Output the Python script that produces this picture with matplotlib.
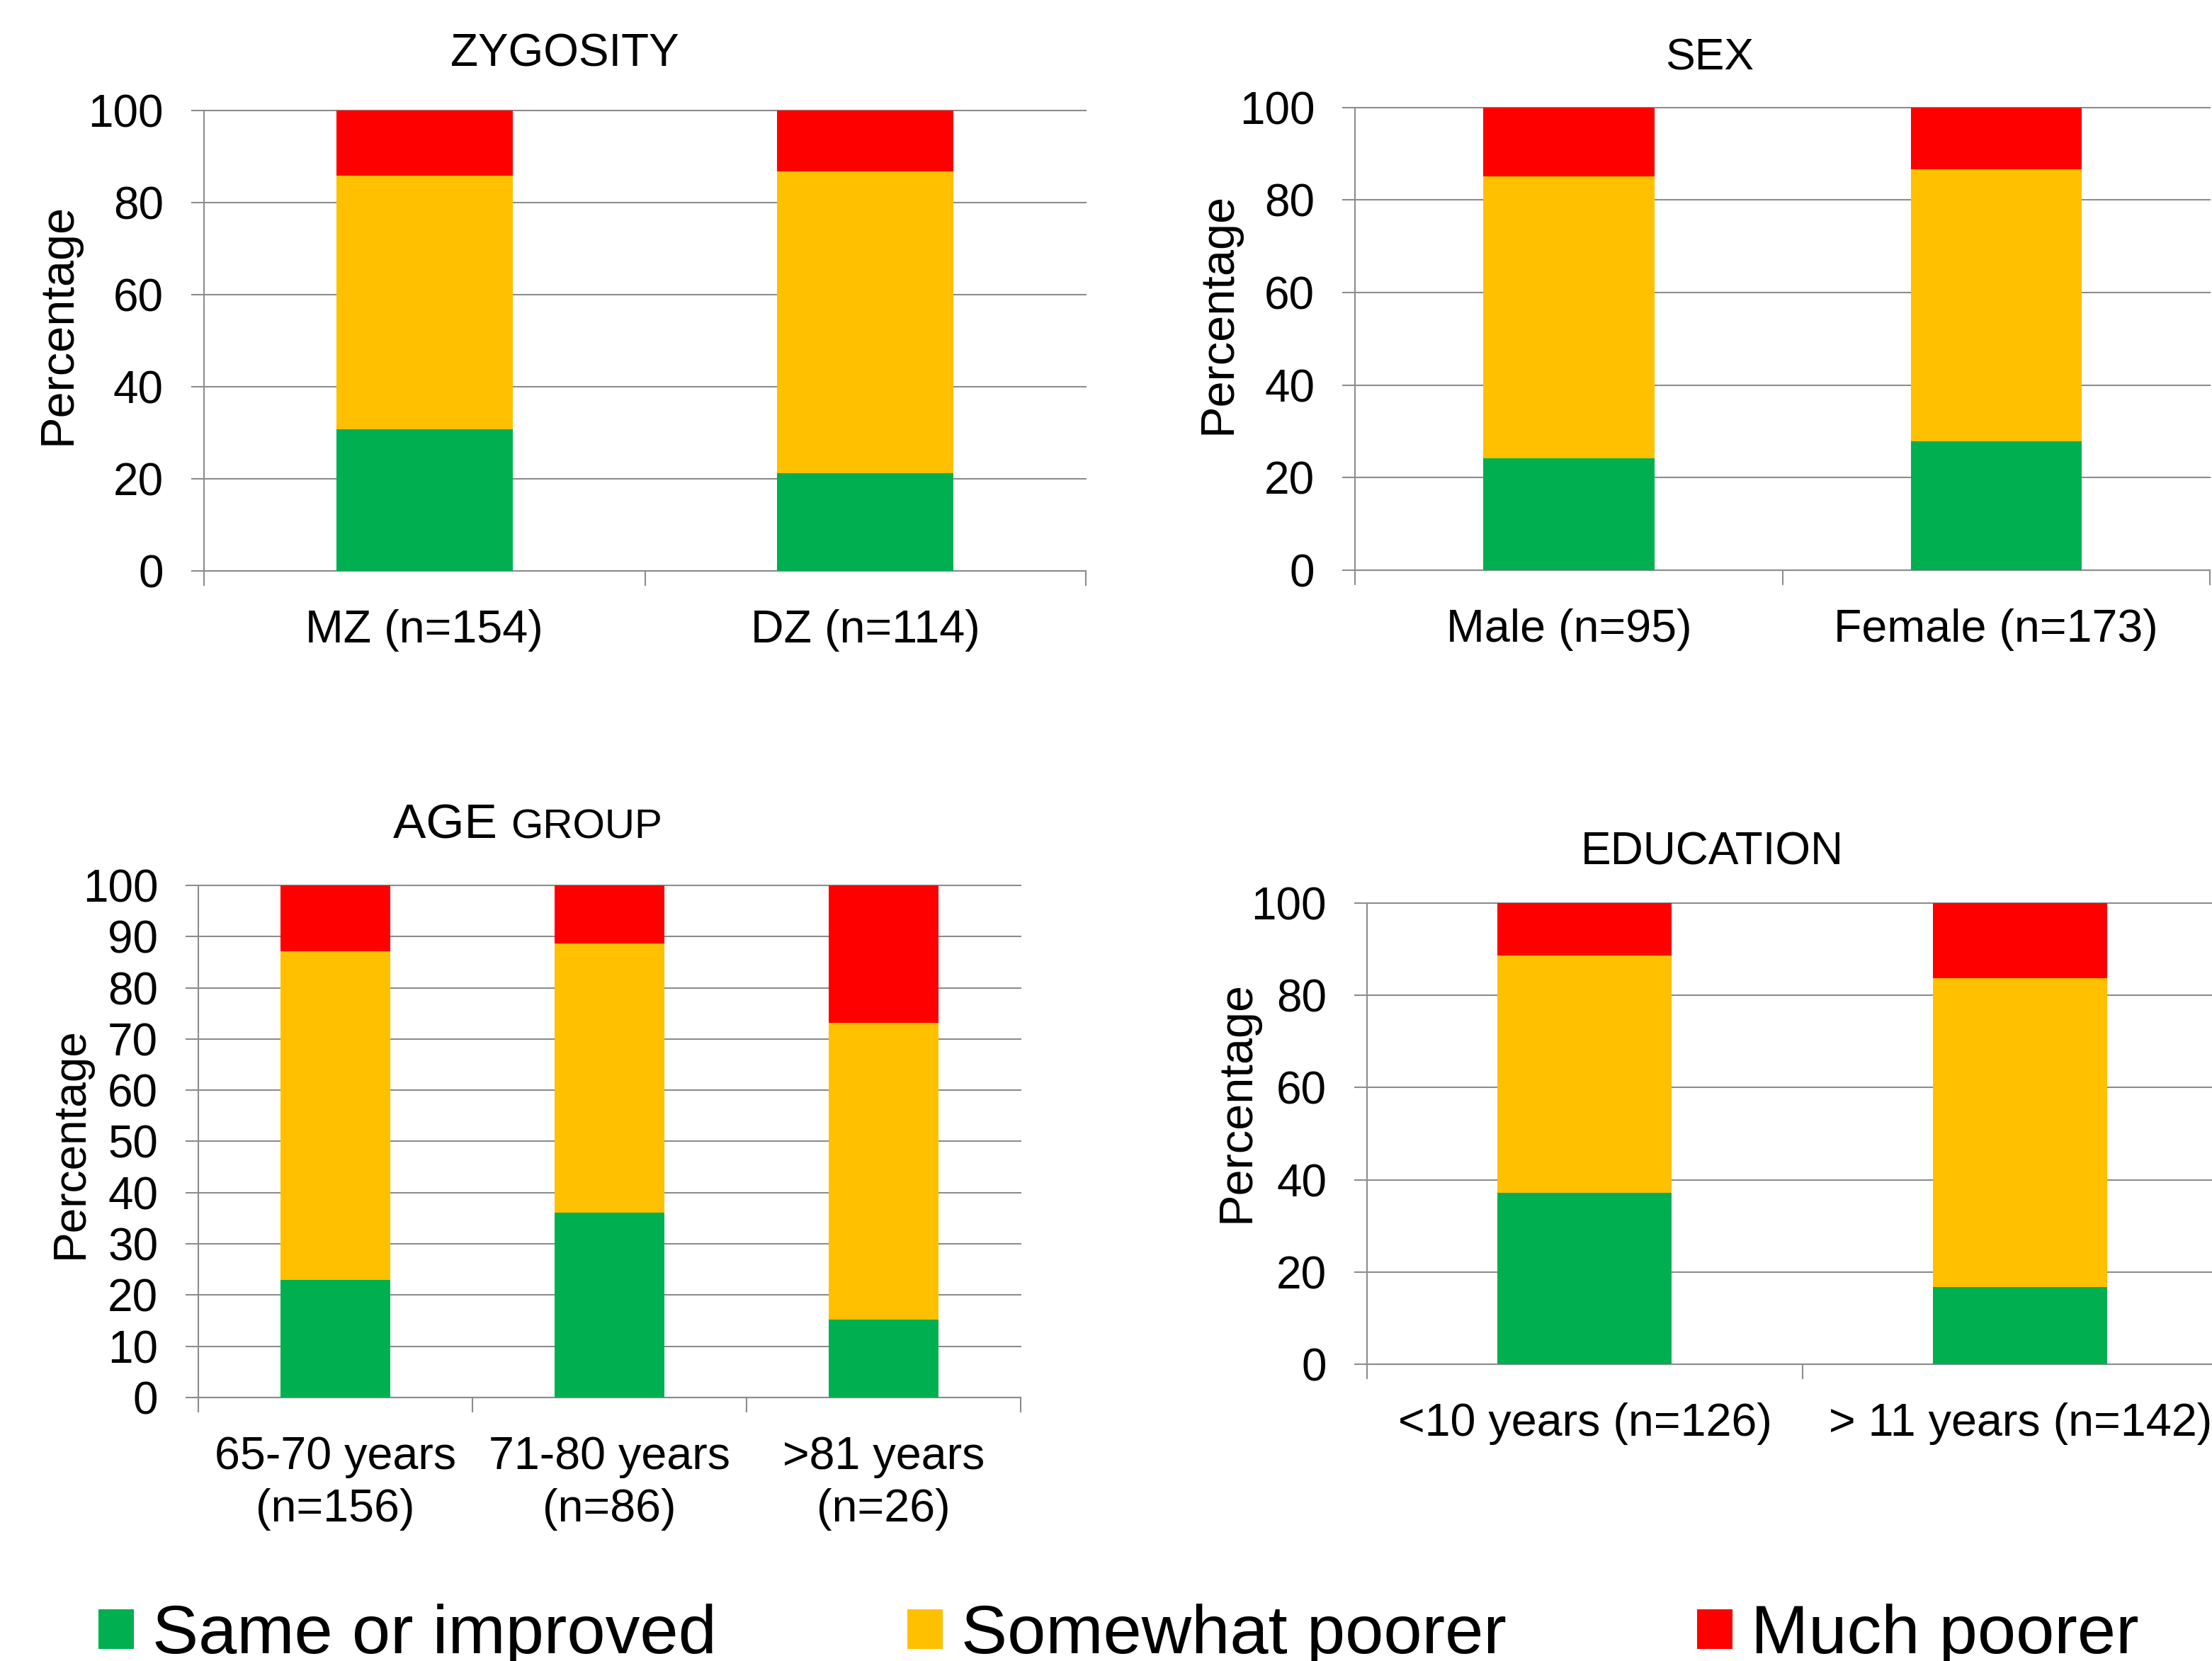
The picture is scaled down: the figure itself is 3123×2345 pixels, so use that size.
import matplotlib
matplotlib.use("Agg")
import matplotlib.pyplot as plt
import numpy as np

plt.rcParams['font.family'] = ['Liberation Sans', 'DejaVu Sans']

# ---------------- data ----------------
series_names = ['Same or improved', 'Somewhat poorer', 'Much poorer']
series_colors = ['#00B050', '#FFC000', '#FF0000']

zyg_labels = ['MZ (n=154)', 'DZ (n=114)']
zyg_same = [30.7, 21.1]
zyg_somewhat = [55.1, 65.7]
zyg_much = [14.2, 13.2]

sex_labels = ['Male (n=95)', 'Female (n=173)']
sex_same = [24.1, 27.8]
sex_somewhat = [61.0, 58.9]
sex_much = [14.9, 13.3]

age_labels = ['65-70 years\n(n=156)', '71-80 years\n(n=86)', '>81 years\n(n=26)']
age_same = [22.9, 36.1, 15.2]
age_somewhat = [64.2, 52.5, 57.9]
age_much = [12.9, 11.4, 26.9]

edu_labels = ['<10 years (n=126)', '> 11 years (n=142)']
edu_same = [37.1, 16.8]
edu_somewhat = [51.6, 66.9]
edu_much = [11.3, 16.3]

zyg_yticks = [0, 20, 40, 60, 80, 100]
sex_yticks = [0, 20, 40, 60, 80, 100]
age_yticks = [0, 10, 20, 30, 40, 50, 60, 70, 80, 90, 100]
edu_yticks = [0, 20, 40, 60, 80, 100]

# ---------------- figure ----------------
W, H = 3123, 2345
fig = plt.figure(figsize=(W / 100, H / 100), dpi=100)

GRID = '#8c8c8c'
YTICK_FS = 46
XTICK_FS = 46.5


def panel(rect, labels, same, somewhat, much, yticks):
    ax = fig.add_axes(rect)
    x = np.arange(len(labels))
    s = np.array(same)
    m = np.array(somewhat)
    p = np.array(much)
    b1 = ax.bar(x, s, width=0.4, color=series_colors[0], zorder=3)
    b2 = ax.bar(x, m, width=0.4, bottom=s, color=series_colors[1], zorder=3)
    b3 = ax.bar(x, p, width=0.4, bottom=s + m, color=series_colors[2], zorder=3)
    ax.set_xlim(-0.5, len(labels) - 0.5)
    ax.set_ylim(0, 100)
    ax.set_yticks(yticks)
    ax.set_xticks(x)
    ax.set_xticklabels(labels, fontsize=XTICK_FS, linespacing=1.3)
    ax.set_xticks(np.arange(len(labels) + 1) - 0.5, minor=True)
    ax.tick_params(axis='x', which='major', length=0, pad=39)
    ax.tick_params(axis='x', which='minor', length=15, width=1.5, color=GRID)
    ax.tick_params(axis='y', which='major', length=13, width=1.5, color=GRID,
                   labelsize=YTICK_FS, pad=28)
    ax.grid(axis='y', color=GRID, linewidth=1.5, zorder=0)
    ax.set_axisbelow(True)
    for gl in ax.yaxis.get_gridlines():
        gl.set_clip_on(False)
    for side in ['top', 'right']:
        ax.spines[side].set_visible(False)
    for side in ['left', 'bottom']:
        ax.spines[side].set_color(GRID)
        ax.spines[side].set_linewidth(1.5)
    return ax, (b1, b2, b3)


ax1, h = panel([0.0922, 0.6565, 0.4909 - 0.0922, 0.9335 - 0.6565],
               zyg_labels, zyg_same, zyg_somewhat, zyg_much, zyg_yticks)
ax2, _ = panel([0.6126, 0.6568, 0.999 - 0.6126, 0.9353 - 0.6568],
               sex_labels, sex_same, sex_somewhat, sex_much, sex_yticks)
ax3, _ = panel([0.0897, 0.1586, 0.4615 - 0.0897, 0.4670 - 0.1586],
               age_labels, age_same, age_somewhat, age_much, age_yticks)
ax4, _ = panel([0.618, 0.1787, 1.0118 - 0.618, 0.4563 - 0.1787],
               edu_labels, edu_same, edu_somewhat, edu_much, edu_yticks)

# titles
fig.text(0.2552, 0.960, 'ZYGOSITY', fontsize=46, ha='center', va='baseline')
fig.text(0.773, 0.9579, 'SEX', fontsize=45, ha='center', va='baseline')
t_age = fig.text(0.1777, 0.4951, 'AGE ', fontsize=50, ha='left', va='baseline')
fig.canvas.draw()
bb = t_age.get_window_extent()
fig.text(bb.x1 / W, 0.4951, 'GROUP', fontsize=42, ha='left', va='baseline')
fig.text(0.7741, 0.4797, 'EDUCATION', fontsize=46, ha='center', va='baseline')

# y labels
fig.text(0.0264, 0.8049, 'Percentage', fontsize=48, rotation=90, ha='center', va='center')
fig.text(0.5508, 0.8112, 'Percentage', fontsize=48, rotation=90, ha='center', va='center')
fig.text(0.0320, 0.3121, 'Percentage', fontsize=46, rotation=90, ha='center', va='center')
fig.text(0.5591, 0.3368, 'Percentage', fontsize=48, rotation=90, ha='center', va='center')

# legend
fig.legend(handles=list(h), labels=series_names, loc='lower left',
           bbox_to_anchor=(139 / W, -0.004), ncol=3, frameon=False, fontsize=70.2,
           handlelength=0.51, handleheight=0.51, handletextpad=0.27,
           columnspacing=2.76, borderpad=0, borderaxespad=0)

fig.savefig('out.png', dpi=100)
